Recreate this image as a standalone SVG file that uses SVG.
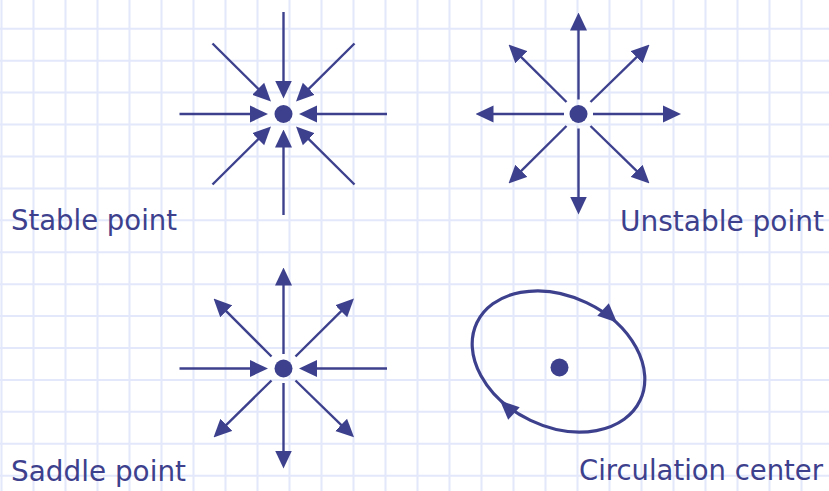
<svg xmlns="http://www.w3.org/2000/svg" width="829" height="491" viewBox="0 0 829 491">
<style>
.grid{stroke:#e3e8fa;stroke-width:2;fill:none}
.ln{stroke:#3d418d;stroke-width:2.4;fill:none}
.hd{fill:#3d418d}
.lbl{font-family:"DejaVu Sans","Liberation Sans",sans-serif;font-size:28px;fill:#3d418d}
</style>
<defs>
<marker id="ah" markerUnits="userSpaceOnUse" viewBox="0 0 18 18" markerWidth="18" markerHeight="18" refX="10" refY="9" orient="auto">
<path d="M0,0.5 L18,9 L0,17.5 z" fill="#3d418d"/>
</marker>
</defs>
<rect width="829" height="491" fill="#ffffff"/>
<g id="grid" class="grid">
<path d="M1.5,0V491M33.5,0V491M65.5,0V491M97.5,0V491M129.5,0V491M161.5,0V491M193.5,0V491M225.5,0V491M257.5,0V491M289.5,0V491M321.5,0V491M353.5,0V491M385.5,0V491M417.5,0V491M449.5,0V491M481.5,0V491M513.5,0V491M545.5,0V491M577.5,0V491M609.5,0V491M641.5,0V491M673.5,0V491M705.5,0V491M737.5,0V491M769.5,0V491M801.5,0V491"/>
<path d="M0,28.8H829M0,60.7H829M0,92.6H829M0,124.6H829M0,156.5H829M0,188.4H829M0,220.3H829M0,252.2H829M0,284.2H829M0,316.1H829M0,348H829M0,379.9H829M0,411.8H829M0,443.8H829M0,475.7H829"/>
</g>
<g id="connectors" class="ln" marker-end="url(#ah)">
<!-- stable -->
<line x1="283.5" y1="12" x2="283.5" y2="90.5"/>
<line x1="283.5" y1="215" x2="283.5" y2="137.5"/>
<line x1="179.5" y1="114" x2="260" y2="114"/>
<line x1="387" y1="114" x2="307" y2="114"/>
<line x1="212.5" y1="43.5" x2="265.3" y2="95.8"/>
<line x1="354.5" y1="43.5" x2="301.7" y2="95.8"/>
<line x1="212.5" y1="184.5" x2="265.3" y2="132.2"/>
<line x1="354.5" y1="184.5" x2="301.7" y2="132.2"/>
<!-- unstable -->
<line x1="578.5" y1="99.5" x2="578.5" y2="20.5"/>
<line x1="578.5" y1="128.5" x2="578.5" y2="206.5"/>
<line x1="564" y1="114" x2="483.5" y2="114"/>
<line x1="593" y1="114" x2="673" y2="114"/>
<line x1="566.5" y1="102" x2="514.2" y2="50.2"/>
<line x1="590.5" y1="102" x2="643.8" y2="50.2"/>
<line x1="566.5" y1="126" x2="514.2" y2="177.8"/>
<line x1="590.5" y1="126" x2="643.8" y2="177.8"/>
<!-- saddle -->
<line x1="283.5" y1="354" x2="283.5" y2="275.5"/>
<line x1="283.5" y1="383" x2="283.5" y2="460.5"/>
<line x1="179.5" y1="368.5" x2="260" y2="368.5"/>
<line x1="387" y1="368.5" x2="307" y2="368.5"/>
<line x1="271.5" y1="356.5" x2="219.2" y2="304.2"/>
<line x1="295.5" y1="356.5" x2="348.3" y2="304.2"/>
<line x1="271.5" y1="380.5" x2="219.2" y2="431.8"/>
<line x1="295.5" y1="380.5" x2="348.3" y2="431.8"/>
</g>
<g id="stable-point">
<circle cx="283.5" cy="114" r="9" class="hd"/>
<text class="lbl" x="11" y="230" textLength="166" lengthAdjust="spacingAndGlyphs">Stable point</text>
</g>
<g id="unstable-point">
<circle cx="578.5" cy="114" r="9" class="hd"/>
<text class="lbl" x="620" y="231" textLength="204" lengthAdjust="spacingAndGlyphs">Unstable point</text>
</g>
<g id="saddle-point">
<circle cx="283.5" cy="368.5" r="9" class="hd"/>
<text class="lbl" x="11" y="481" textLength="175" lengthAdjust="spacingAndGlyphs">Saddle point</text>
</g>
<g id="circulation-center">
<ellipse cx="558.5" cy="361.5" rx="90.4" ry="65.2" transform="rotate(25.4 558.5 361.5)" fill="none" stroke="#3d418d" stroke-width="3.2"/>
<polygon class="hd" points="0,0 -19,-8.5 -19,8.5" transform="translate(617 322.5) rotate(42.8)"/>
<polygon class="hd" points="0,0 -19,-8.5 -19,8.5" transform="translate(500 400.5) rotate(222.8)"/>
<circle cx="559.5" cy="367.5" r="9" class="hd"/>
<text class="lbl" x="579" y="480" textLength="244" lengthAdjust="spacingAndGlyphs">Circulation center</text>
</g>
</svg>
